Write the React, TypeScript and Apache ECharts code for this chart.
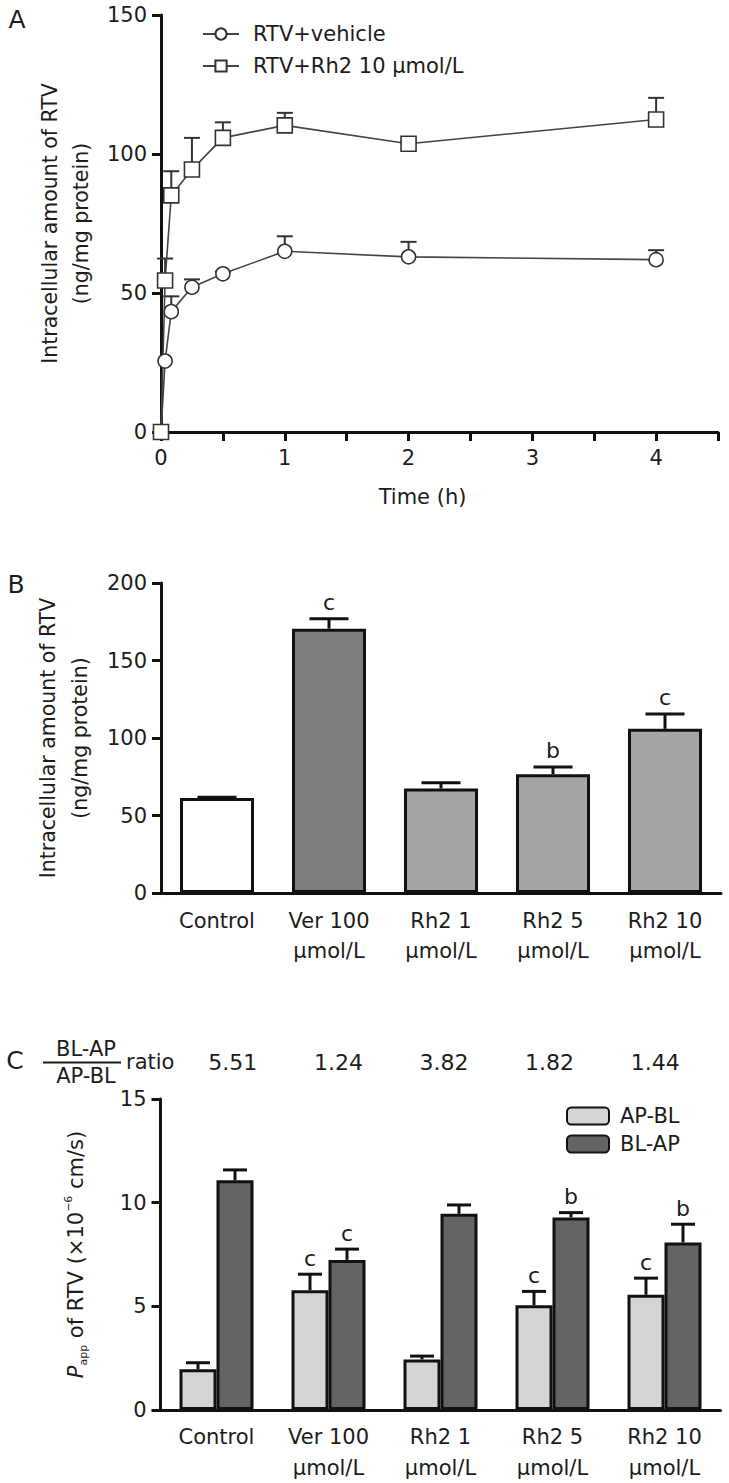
import React, { useEffect, useRef } from "react";
import * as echarts from "echarts";

const FONT = "DejaVu Sans";
const TXT = "#1c1c1c";
const AX = "#111";

// Panel A
const timesH = [0, 0.033, 0.083, 0.25, 0.5, 1, 2, 4];
const vehicleVals = [0, 25.5, 43.3, 52.1, 56.9, 65.0, 63.0, 62.0];
const vehicleErr = [0, 0, 5.5, 2.8, 0.8, 5.4, 5.4, 3.4];
const rh2Vals = [0, 54.5, 85.1, 94.4, 105.8, 110.3, 103.7, 112.4];
const rh2Err = [0, 7.9, 8.7, 11.4, 5.6, 4.5, 0.8, 7.8];

// Panel B
const categories = ["Control", "Ver 100\nµmol/L", "Rh2 1\nµmol/L", "Rh2 5\nµmol/L", "Rh2 10\nµmol/L"];
const bVals = [61.3, 170.5, 67.4, 76.6, 105.9];
const bErr = [0.5, 6.4, 3.8, 4.7, 9.6];
const bMarks = ["", "c", "", "b", "c"];
const bColors = ["#ffffff", "#7d7d7d", "#a5a5a5", "#a5a5a5", "#a5a5a5"];

// Panel C
const apblVals = [1.96, 5.77, 2.44, 5.05, 5.56];
const apblErr = [0.32, 0.78, 0.16, 0.67, 0.8];
const blapVals = [11.08, 7.24, 9.46, 9.29, 8.08];
const blapErr = [0.5, 0.52, 0.43, 0.23, 0.88];
const apblMarks = ["", "c", "", "c", "c"];
const blapMarks = ["", "c", "", "b", "b"];
const ratioLabels = ["5.51", "1.24", "3.82", "1.82", "1.44"];

const axisLine = { show: true, onZero: false, lineStyle: { color: AX, width: 3 } };
const axisTick = { show: true, length: 9, lineStyle: { color: AX, width: 3 } };

function errSeries(
  xi: number,
  yi: number,
  data: number[][],
  marks: string[] | null,
  offset: number,
  cap: number,
  lw: number,
  color: string,
  z: number
) {
  return {
    type: "custom",
    xAxisIndex: xi,
    yAxisIndex: yi,
    z,
    silent: true,
    data,
    renderItem: (params: any, api: any) => {
      const x = api.value(0);
      const v = api.value(1);
      const e = api.value(2);
      const p0 = api.coord([x, v]);
      const p1 = api.coord([x, v + e]);
      const cx = p0[0] + offset;
      const children: any[] = [];
      if (e > 0) {
        children.push({
          type: "line",
          shape: { x1: cx, y1: p0[1], x2: cx, y2: p1[1] },
          style: { stroke: color, lineWidth: lw },
        });
        children.push({
          type: "line",
          shape: { x1: cx - cap / 2, y1: p1[1], x2: cx + cap / 2, y2: p1[1] },
          style: { stroke: color, lineWidth: lw },
        });
      }
      const m = marks ? marks[params.dataIndex] : "";
      if (m) {
        children.push({
          type: "text",
          style: {
            text: m,
            x: cx,
            y: p1[1] - 16,
            align: "center",
            verticalAlign: "middle",
            textAlign: "center",
            textVerticalAlign: "middle",
            fontSize: 22,
            fontFamily: FONT,
            fill: TXT,
          },
        });
      }
      return { type: "group", children };
    },
  };
}

function gText(text: string, x: number, y: number, size: number, align = "center") {
  return {
    type: "text",
    x,
    y,
    style: {
      text,
      fontSize: size,
      fontFamily: FONT,
      fill: TXT,
      align,
      verticalAlign: "middle",
      textAlign: align,
      textVerticalAlign: "middle",
    },
  };
}

export default function App() {
  const ref = useRef<HTMLDivElement>(null);
  useEffect(() => {
    if (!ref.current) return;
    const chart = echarts.init(ref.current, null, { renderer: "svg" });
    const option: any = {
      animation: false,
      backgroundColor: "#ffffff",
      textStyle: { fontFamily: FONT, color: TXT },
      grid: [
        { left: 161, top: 15, width: 557, height: 417 },
        { left: 161, top: 583, width: 560, height: 310 },
        { left: 160.5, top: 1099, width: 560, height: 313 },
        { left: 180, top: 1062.5, width: 528, height: 10 },
      ],
      legend: [
        {
          data: ["RTV+vehicle", "RTV+Rh2 10 µmol/L"],
          orient: "vertical",
          left: 197,
          top: 18,
          itemWidth: 36,
          itemHeight: 14,
          itemGap: 10,
          selectedMode: false,
          textStyle: { fontSize: 21, fontFamily: FONT, color: TXT, lineHeight: 22, padding: [0, 0, 0, 9] },
        },
        {
          data: ["AP-BL", "BL-AP"],
          orient: "vertical",
          left: 561,
          top: 1100,
          itemWidth: 42,
          itemHeight: 17,
          itemGap: 6,
          icon: "roundRect",
          selectedMode: false,
          textStyle: { fontSize: 21, fontFamily: FONT, color: TXT, lineHeight: 22, padding: [0, 0, 0, 6] },
        },
      ],
      xAxis: [
        {
          gridIndex: 0,
          type: "value",
          min: 0,
          max: 4.5,
          interval: 0.5,
          axisLine,
          axisTick,
          splitLine: { show: false },
          axisLabel: {
            fontSize: 21,
            color: TXT,
            margin: 15,
            formatter: (v: number) =>
              Math.abs(v - Math.round(v)) < 1e-9 && v <= 4 ? String(Math.round(v)) : "",
          },
          name: "Time (h)",
          nameLocation: "middle",
          nameGap: 54,
          nameTextStyle: { fontSize: 21, color: TXT, fontFamily: FONT, padding: [0, 34, 0, 0] },
        },
        {
          gridIndex: 1,
          type: "category",
          data: categories,
          axisLine,
          axisTick: { show: false },
          axisLabel: { fontSize: 21, color: TXT, lineHeight: 30, margin: 13, interval: 0 },
        },
        {
          gridIndex: 2,
          type: "category",
          data: categories,
          axisLine,
          axisTick: { show: false },
          axisLabel: { fontSize: 21, color: TXT, lineHeight: 31, margin: 11, interval: 0 },
        },
        {
          gridIndex: 3,
          type: "category",
          data: ratioLabels,
          position: "top",
          axisLine: { show: false },
          axisTick: { show: false },
          axisLabel: { fontSize: 22, color: TXT, margin: 0, verticalAlign: "middle", interval: 0 },
        },
      ],
      yAxis: [
        {
          gridIndex: 0,
          type: "value",
          min: 0,
          max: 150,
          interval: 50,
          axisLine,
          axisTick,
          splitLine: { show: false },
          axisLabel: { fontSize: 21, color: TXT, margin: 14 },
          name: "Intracellular amount of RTV\n(ng/mg protein)",
          nameLocation: "middle",
          nameRotate: 90,
          nameGap: 65,
          nameTextStyle: { fontSize: 20.5, color: TXT, lineHeight: 31, fontFamily: FONT },
        },
        {
          gridIndex: 1,
          type: "value",
          min: 0,
          max: 200,
          interval: 50,
          axisLine,
          axisTick,
          splitLine: { show: false },
          axisLabel: { fontSize: 21, color: TXT, margin: 14 },
          name: "Intracellular amount of RTV\n(ng/mg protein)",
          nameLocation: "middle",
          nameRotate: 90,
          nameGap: 65,
          nameTextStyle: { fontSize: 20.5, color: TXT, lineHeight: 32, fontFamily: FONT },
        },
        {
          gridIndex: 2,
          type: "value",
          min: 0,
          max: 15,
          interval: 5,
          axisLine,
          axisTick,
          splitLine: { show: false },
          axisLabel: { fontSize: 21, color: TXT, margin: 14 },
          name: "{p|P}{sub|app}{t| of RTV (×10}{sup|−6}{t| cm/s)}",
          nameLocation: "middle",
          nameRotate: 90,
          nameGap: 72,
          nameTextStyle: {
            fontSize: 21,
            color: TXT,
            fontFamily: FONT,
            rich: {
              p: { fontSize: 21, fontStyle: "italic", color: TXT, fontFamily: FONT, lineHeight: 26 },
              sub: { fontSize: 11, color: TXT, fontFamily: FONT, verticalAlign: "bottom", lineHeight: 26 },
              t: { fontSize: 21, color: TXT, fontFamily: FONT, lineHeight: 26 },
              sup: { fontSize: 11, color: TXT, fontFamily: FONT, verticalAlign: "top", lineHeight: 26 },
            },
          },
        },
        { gridIndex: 3, type: "value", show: false, min: 0, max: 1 },
      ],
      series: [
        {
          type: "line",
          name: "RTV+vehicle",
          xAxisIndex: 0,
          yAxisIndex: 0,
          z: 3,
          data: timesH.map((t, i) => [t, vehicleVals[i]]),
          symbol: "circle",
          symbolSize: 14,
          showAllSymbol: true,
          itemStyle: { color: "#ffffff", borderColor: "#333", borderWidth: 1.6 },
          lineStyle: { color: "#444", width: 1.6 },
        },
        {
          type: "line",
          name: "RTV+Rh2 10 µmol/L",
          xAxisIndex: 0,
          yAxisIndex: 0,
          z: 3,
          data: timesH.map((t, i) => [t, rh2Vals[i]]),
          symbol: "rect",
          symbolSize: 15,
          showAllSymbol: true,
          itemStyle: { color: "#ffffff", borderColor: "#333", borderWidth: 1.6 },
          lineStyle: { color: "#444", width: 1.6 },
        },
        errSeries(0, 0, timesH.map((t, i) => [t, vehicleVals[i], vehicleErr[i]]), null, 0, 16, 2, "#333", 1),
        errSeries(0, 0, timesH.map((t, i) => [t, rh2Vals[i], rh2Err[i]]), null, 0, 16, 2, "#333", 1),
        {
          type: "bar",
          xAxisIndex: 1,
          yAxisIndex: 1,
          barWidth: 74,
          data: bVals.map((v, i) => ({ value: v, itemStyle: { color: bColors[i] } })),
          itemStyle: { borderColor: AX, borderWidth: 3 },
        },
        errSeries(1, 1, bVals.map((v, i) => [i, v, bErr[i]]), bMarks, 0, 39, 3, AX, 4),
        {
          type: "bar",
          name: "AP-BL",
          xAxisIndex: 2,
          yAxisIndex: 2,
          barWidth: 37,
          barGap: "0%",
          data: apblVals,
          itemStyle: { color: "#d4d4d4", borderColor: AX, borderWidth: 3 },
        },
        {
          type: "bar",
          name: "BL-AP",
          xAxisIndex: 2,
          yAxisIndex: 2,
          barWidth: 37,
          barGap: "0%",
          data: blapVals,
          itemStyle: { color: "#646464", borderColor: AX, borderWidth: 3 },
        },
        errSeries(2, 2, apblVals.map((v, i) => [i, v, apblErr[i]]), apblMarks, -18.5, 24, 3, AX, 4),
        errSeries(2, 2, blapVals.map((v, i) => [i, v, blapErr[i]]), blapMarks, 18.5, 24, 3, AX, 4),
      ],
      graphic: [
        gText("A", 17, 19, 25),
        gText("B", 16, 584, 25),
        gText("C", 15, 1060, 25),
        gText("BL-AP", 86, 1049, 21),
        {
          type: "line",
          shape: { x1: 43, y1: 1062.5, x2: 121, y2: 1062.5 },
          style: { stroke: TXT, lineWidth: 2 },
        },
        gText("AP-BL", 86, 1076, 21),
        gText("ratio", 126, 1062, 21, "left"),
      ],
    };
    chart.setOption(option);
    return () => chart.dispose();
  }, []);
  return (
    <div
      ref={ref}
      style={{ position: "absolute", left: 0, top: 0, width: 729, height: 1483, background: "#fff" }}
    />
  );
}
